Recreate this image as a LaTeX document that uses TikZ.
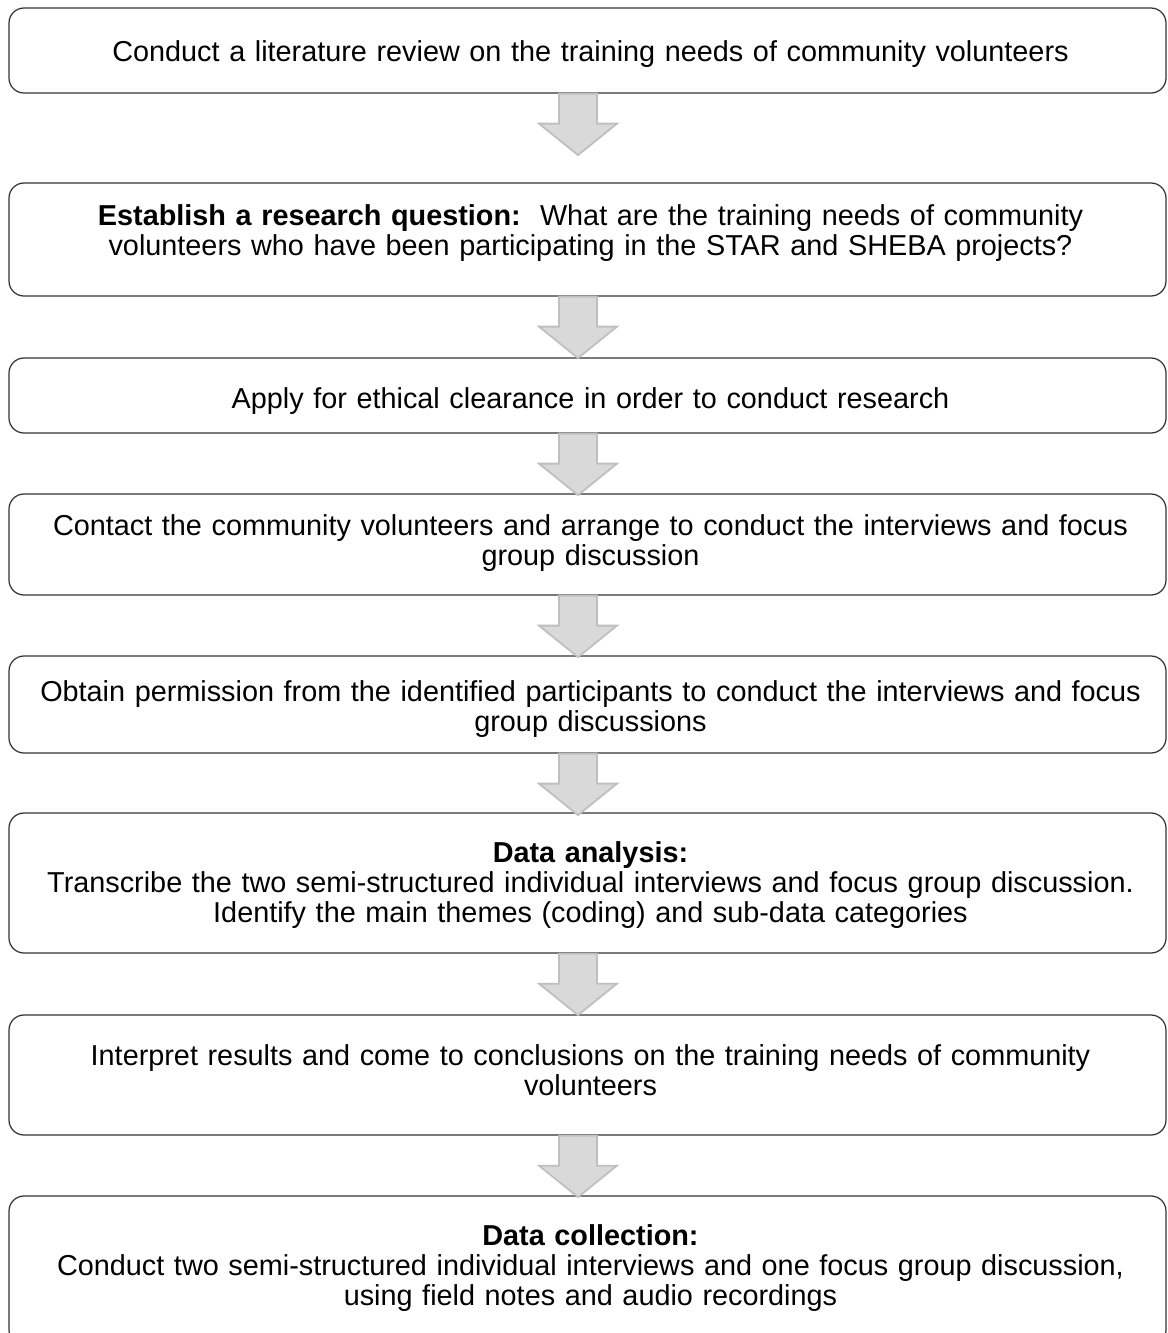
\documentclass[tikz,border=0pt]{standalone}
\usepackage{fontspec}
\setmainfont{Liberation Sans}
\usetikzlibrary{positioning,calc}
\tikzset{>=stealth}
\tikzset{
  stepbox/.style={draw=black!80, line width=0.7pt, rounded corners=0.3cm, minimum width=23.14cm, inner sep=0pt},
  steptext/.style={text width=23cm, align=center, inner sep=0pt, font=\fontsize{16.4}{17.1}\selectfont},
  downarrow/.style={fill=black!15, draw=black!25, line width=1pt, line join=miter}
}

\begin{document}
\begin{tikzpicture}
\useasboundingbox (0,0) rectangle (23.34,-26.66);
\coordinate (axis) at (11.56,0);
\node[stepbox, minimum height=1.70cm] (b1) at (11.75,-1.01) {};
\node[stepbox, minimum height=2.26cm] (b2) at (11.75,-4.79) {};
\node[stepbox, minimum height=1.50cm] (b3) at (11.75,-7.91) {};
\node[stepbox, minimum height=2.02cm] (b4) at (11.75,-10.89) {};
\node[stepbox, minimum height=1.94cm] (b5) at (11.75,-14.09) {};
\node[stepbox, minimum height=2.80cm] (b6) at (11.75,-17.66) {};
\node[stepbox, minimum height=2.40cm] (b7) at (11.75,-21.50) {};
\node[stepbox, minimum height=2.98cm] (b8) at (11.75,-25.41) {};
\node[steptext, anchor=base] (t1) at (11.81,-1.22) {Conduct a literature review on the training needs of community volunteers};
\node[steptext, anchor=base] (t2) at (11.81,-4.50) {\textbf{Establish a research question:}\ \ What are the training needs of community\\ volunteers who have been participating in the STAR and SHEBA projects?};
\node[steptext, anchor=base] (t3) at (11.81,-8.16) {Apply for ethical clearance in order to conduct research};
\node[steptext, anchor=base] (t4) at (11.81,-10.70) {Contact the community volunteers and arrange to conduct the interviews and focus\\ group discussion};
\node[steptext, anchor=base] (t5) at (11.81,-14.02) {Obtain permission from the identified participants to conduct the interviews and focus\\ group discussions};
\node[steptext, anchor=base] (t6) at (11.81,-17.24) {\textbf{Data analysis:}\\ Transcribe the two semi-structured individual interviews and focus group discussion.\\ Identify the main themes (coding) and sub-data categories};
\node[steptext, anchor=base] (t7) at (11.81,-21.30) {Interpret results and come to conclusions on the training needs of community\\ volunteers};
\node[steptext, anchor=base] (t8) at (11.81,-24.90) {\textbf{Data collection:}\\ Conduct two semi-structured individual interviews and one focus group discussion,\\ using field notes and audio recordings};
\foreach \n in {1,...,7}
  \draw[downarrow] ($(b\n.south -| axis)+(-0.38,0)$) -- ++(0,-0.6) -- ++(-0.4,0) -- ++(0.78,-0.63) -- ++(0.78,0.63) -- ++(-0.4,0) -- ++(0,0.6) -- cycle;
\end{tikzpicture}
\end{document}
